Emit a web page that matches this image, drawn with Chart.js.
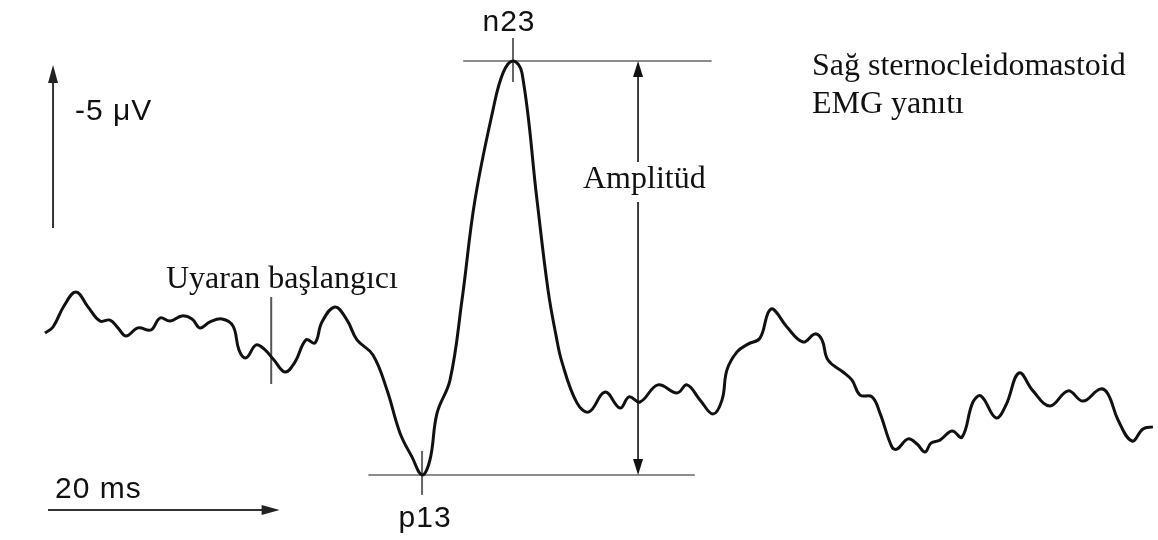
<!DOCTYPE html>
<html>
<head>
<meta charset="utf-8">
<script src="https://cdn.jsdelivr.net/npm/chart.js@4/dist/chart.umd.min.js"></script>
<style>
  html, body { margin: 0; padding: 0; background: #ffffff; }
  #wrap { width: 1158px; height: 540px; }
</style>
</head>
<body>
<div id="wrap"><canvas id="c" width="1158" height="540"></canvas></div>
<script>
// Time (ms, 0 = stimulus onset) and amplitude (µV, negative up)
const timeMs = [
  -18.75, -18.08, -17.17, -16.17, -15.17, -14.17, -13.33, -12.67, -12.00, -11.00,
  -9.92, -9.17, -8.33, -7.33, -6.50, -5.83, -5.00, -4.00, -3.08, -2.58,
  -2.00, -1.17, -0.50, 0.33, 1.25, 2.08, 3.00, 3.75, 4.33, 5.42,
  6.42, 7.25, 8.58, 9.75, 10.83, 11.83, 12.67, 13.33, 13.92, 15.00,
  16.00, 17.08, 18.58, 19.42, 20.25, 21.00, 22.25, 23.17, 23.83, 24.33, 25.58,
  26.58, 27.92, 29.17, 29.92, 30.83, 32.33, 33.92, 34.75, 35.83, 36.92,
  37.67, 38.08, 38.92, 39.83, 40.83, 41.50, 41.92, 43.08, 44.42, 45.42,
  46.00, 46.50, 47.75, 48.50, 49.17, 50.17, 50.83, 51.83, 52.25, 53.17,
  53.92, 54.58, 55.08, 55.83, 56.83, 57.67, 58.58, 59.25, 60.50, 61.33,
  62.42, 63.58, 65.00, 66.50, 67.75, 69.17, 69.83, 70.67, 71.83, 72.75,
  73.58
];
const amplitudeUv = [
  0.10, -0.10, -0.80, -1.27, -0.77, -0.30, -0.33, -0.07, 0.20, -0.07,
  0.00, -0.40, -0.30, -0.47, -0.37, -0.07, -0.27, -0.37, -0.13, 0.67,
  0.93, 0.50, 0.63, 1.00, 1.40, 1.07, 0.33, 0.43, -0.27, -0.77,
  -0.33, 0.33, 0.83, 2.00, 3.43, 4.23, 4.83, 4.33, 2.77, 1.67,
  -1.00, -4.33, -7.33, -8.57, -8.97, -8.57, -4.33, -1.33, 0.17, 1.07, 2.43,
  2.73, 2.07, 2.60, 2.23, 2.40, 1.83, 2.10, 1.83, 2.33, 2.80,
  2.33, 1.33, 0.73, 0.47, 0.27, -0.57, -0.70, -0.10, 0.40, 0.13,
  0.33, 1.00, 1.40, 1.67, 2.17, 2.23, 2.77, 3.90, 3.97, 3.63,
  3.80, 4.07, 3.77, 3.67, 3.37, 3.57, 2.40, 2.20, 2.93, 2.50,
  1.43, 2.03, 2.53, 2.03, 2.37, 1.97, 2.13, 3.00, 3.70, 3.30,
  3.23
];
const peakLabels = ['n23', 'p13'];
const textLabels = ['Uyaran başlangıcı', 'Amplitüd', 'Sağ sternocleidomastoid', 'EMG yanıtı'];
const scaleBarLabels = ['-5 μV', '20 ms'];

const points = timeMs.map((t, i) => ({ x: t, y: amplitudeUv[i] }));

function arrowHead(ctx, tx, ty, dx, dy, len, half) {
  const n = Math.hypot(dx, dy); dx /= n; dy /= n;
  const bx = tx - dx * len, by = ty - dy * len;
  ctx.beginPath();
  ctx.moveTo(tx, ty);
  ctx.lineTo(bx - dy * half, by + dx * half);
  ctx.lineTo(bx + dy * half, by - dx * half);
  ctx.closePath();
  ctx.fill();
}
function seg(ctx, x1, y1, x2, y2) {
  ctx.beginPath(); ctx.moveTo(x1, y1); ctx.lineTo(x2, y2); ctx.stroke();
}

const overlay = {
  id: 'overlay',
  beforeDatasetsDraw(chart) {
    const { ctx, scales: { x, y } } = chart;
    const iN = amplitudeUv.indexOf(Math.min(...amplitudeUv));
    const iP = amplitudeUv.indexOf(Math.max(...amplitudeUv));
    const nT = timeMs[iN], nV = amplitudeUv[iN];
    const pT = timeMs[iP], pV = amplitudeUv[iP];
    ctx.save();
    ctx.strokeStyle = '#8c8c8c';
    ctx.lineWidth = 2;
    seg(ctx, x.getPixelForValue(16.1), y.getPixelForValue(nV), x.getPixelForValue(36.8), y.getPixelForValue(nV));
    seg(ctx, x.getPixelForValue(8.2), y.getPixelForValue(pV), x.getPixelForValue(35.4), y.getPixelForValue(pV));
    ctx.strokeStyle = '#666';
    seg(ctx, x.getPixelForValue(nT), y.getPixelForValue(nV) - 23, x.getPixelForValue(nT), y.getPixelForValue(nV) + 21);
    seg(ctx, x.getPixelForValue(pT), y.getPixelForValue(pV) - 24, x.getPixelForValue(pT), y.getPixelForValue(pV) + 20);
    ctx.strokeStyle = '#555';
    seg(ctx, x.getPixelForValue(0.1), y.getPixelForValue(-1.1), x.getPixelForValue(0.1), y.getPixelForValue(1.8));
    ctx.restore();
  },
  afterDatasetsDraw(chart) {
    const { ctx, scales: { x, y } } = chart;
    const iN = amplitudeUv.indexOf(Math.min(...amplitudeUv));
    const iP = amplitudeUv.indexOf(Math.max(...amplitudeUv));
    const nT = timeMs[iN], nV = amplitudeUv[iN];
    const pT = timeMs[iP], pV = amplitudeUv[iP];
    ctx.save();
    const ax = x.getPixelForValue(30.67);
    const ay1 = y.getPixelForValue(nV), ay2 = y.getPixelForValue(pV);
    ctx.strokeStyle = '#111'; ctx.fillStyle = '#111'; ctx.lineWidth = 1.6;
    seg(ctx, ax, ay1 + 8, ax, ay2 - 8);
    arrowHead(ctx, ax, ay1, 0, -1, 16, 5);
    arrowHead(ctx, ax, ay2, 0, 1, 16, 5);
    ctx.strokeStyle = '#333'; ctx.fillStyle = '#222'; ctx.lineWidth = 2;
    const vx = x.getPixelForValue(-18.08);
    const vy1 = y.getPixelForValue(-3.4), vy2 = y.getPixelForValue(-8.83);
    seg(ctx, vx, vy1, vx, vy2 + 8);
    arrowHead(ctx, vx, vy2, 0, -1, 18, 5);
    const hy = y.getPixelForValue(6.0);
    const hx1 = x.getPixelForValue(-18.5), hx2 = x.getPixelForValue(0.8);
    seg(ctx, hx1, hy, hx2 - 8, hy);
    arrowHead(ctx, hx2, hy, 1, 0, 18, 5);

    ctx.fillStyle = '#111';
    ctx.textBaseline = 'alphabetic';
    ctx.font = '32px "Liberation Serif", "Times New Roman", serif';
    ctx.textAlign = 'left';
    const amW = ctx.measureText(textLabels[1]).width;
    ctx.fillStyle = '#fff';
    ctx.fillRect(583, 162, amW + 2, 40);
    ctx.fillStyle = '#111';
    ctx.fillText(textLabels[1], 583, 188);
    ctx.fillText(textLabels[0], 166, 288);
    ctx.fillText(textLabels[2], 812, 75);
    ctx.fillText(textLabels[3], 812, 113);

    ctx.font = '30px "Liberation Sans", Arial, sans-serif';
    try { ctx.letterSpacing = '1px'; } catch (e) {}
    ctx.textAlign = 'center';
    ctx.fillText(peakLabels[0], x.getPixelForValue(nT) - 4, 31);
    ctx.fillText(peakLabels[1], x.getPixelForValue(pT) + 3, 527);
    ctx.textAlign = 'left';
    ctx.fillText(scaleBarLabels[0], 75, 120);
    ctx.fillText(scaleBarLabels[1], 55, 498);
    ctx.restore();
  }
};

new Chart(document.getElementById('c'), {
  type: 'line',
  data: {
    datasets: [{
      data: points,
      borderColor: '#111',
      borderWidth: 3,
      pointRadius: 0,
      fill: false,
      tension: 0.4,
      clip: false
    }]
  },
  options: {
    responsive: false,
    animation: false,
    devicePixelRatio: 1,
    layout: { padding: 0 },
    parsing: false,
    plugins: { legend: { display: false }, tooltip: { enabled: false }, title: { display: false } },
    scales: {
      x: { type: 'linear', min: -22.5, max: 74, display: false },
      y: { type: 'linear', min: -11, max: 7, reverse: true, display: false }
    }
  },
  plugins: [overlay]
});
</script>
</body>
</html>
